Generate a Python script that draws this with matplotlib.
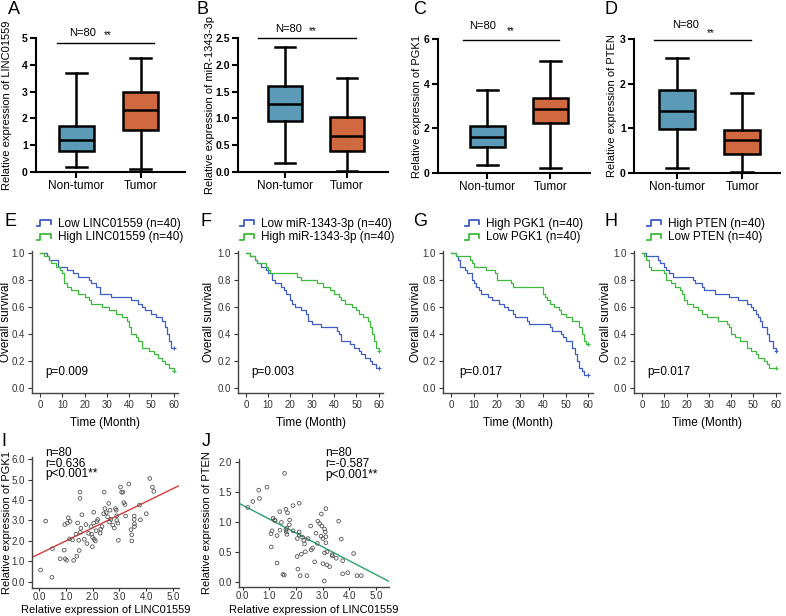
import numpy as np
import matplotlib
matplotlib.use("Agg")
import matplotlib.pyplot as plt
from matplotlib.lines import Line2D
from matplotlib.legend_handler import HandlerBase

plt.rcParams["font.family"] = ["Liberation Sans", "DejaVu Sans"]

# ----------------------------------------------------------
# Data
# ----------------------------------------------------------
groups = ["Non-tumor", "Tumor"]

# box stats: whislo, q1, med, q3, whishi
box_A = [[0.20, 0.80, 1.20, 1.72, 3.68], [0.10, 1.55, 2.30, 3.00, 4.27]]
box_B = [[0.17, 0.95, 1.26, 1.60, 2.33], [0.02, 0.40, 0.67, 1.02, 1.75]]
box_C = [[0.38, 1.15, 1.60, 2.10, 3.70], [0.22, 2.22, 2.86, 3.38, 5.02]]
box_D = [[0.12, 0.99, 1.38, 1.86, 2.57], [0.02, 0.42, 0.75, 0.96, 1.79]]
box_ylabels = ["Relative expression of LINC01559", "Relative expression of miR-1343-3p",
               "Relative expression of PGK1", "Relative expression of PTEN"]
box_ylims = [5, 2.5, 6, 3]
box_yticks = [[0, 1, 2, 3, 4, 5], [0, 0.5, 1.0, 1.5, 2.0, 2.5], [0, 2, 4, 6], [0, 1, 2, 3]]
box_yfmt = ["{:.0f}", "{:.1f}", "{:.0f}", "{:.0f}"]

# Kaplan-Meier steps (time in months, survival fraction)
E_low_t = [0, 3, 4, 8, 12, 15, 17, 22, 23, 25, 27, 32, 41, 44, 46, 47, 50, 52, 55, 56, 57, 58, 59, 60]
E_low_s = [1, .975, .95, .9, .875, .85, .825, .8, .775, .75, .7, .675, .65, .625, .6, .575, .55, .525, .5, .45, .4, .35, .3, .3]
E_high_t = [0, 2, 4, 5, 7, 9, 10, 11, 12, 14, 17, 20, 22, 23, 28, 31, 34, 37, 39, 40, 41, 43, 44, 46, 49, 51, 53, 55, 56, 58, 60]
E_high_s = [1, .975, .95, .925, .9, .875, .85, .775, .75, .725, .7, .675, .65, .625, .6, .575, .55, .525, .5, .45, .4, .375, .35, .3, .275, .25, .225, .2, .175, .15, .125]

F_low_t = [0, 2, 4, 5, 7, 9, 10, 12, 13, 16, 17, 18, 20, 21, 22, 25, 27, 28, 30, 34, 41, 42, 43, 47, 49, 51, 52, 54, 56, 57, 59, 60]
F_low_s = [1, .975, .95, .925, .9, .875, .85, .8, .775, .75, .725, .7, .65, .625, .6, .575, .55, .5, .475, .45, .425, .4, .35, .325, .3, .275, .25, .225, .2, .175, .15, .15]
F_high_t = [0, 2, 4, 5, 9, 10, 11, 23, 25, 32, 35, 38, 40, 42, 43, 45, 48, 50, 51, 53, 55, 56, 57, 58, 59, 60]
F_high_s = [1, .975, .95, .925, .9, .875, .85, .825, .8, .775, .75, .725, .7, .675, .65, .625, .6, .575, .55, .525, .5, .45, .4, .35, .3, .275]

G_high_t = [0, 2, 3, 4, 6, 7, 9, 10, 11, 12, 13, 16, 18, 21, 23, 25, 27, 28, 33, 34, 43, 44, 48, 49, 50, 53, 54, 55, 56, 57, 58, 60]
G_high_s = [1, .975, .95, .9, .875, .85, .8, .775, .75, .725, .7, .675, .65, .625, .6, .575, .55, .525, .5, .475, .45, .425, .4, .375, .35, .3, .25, .2, .15, .125, .1, .1]
G_low_t = [0, 2, 8, 9, 10, 15, 19, 20, 26, 27, 40, 41, 42, 43, 45, 47, 48, 50, 53, 56, 57, 58, 59, 60]
G_low_s = [1, .975, .95, .925, .9, .875, .85, .8, .775, .75, .7, .675, .65, .625, .6, .575, .55, .525, .5, .45, .4, .35, .325, .325]

H_high_t = [0, 2, 7, 8, 10, 11, 12, 14, 23, 24, 27, 28, 33, 39, 43, 47, 49, 50, 51, 52, 53, 54, 56, 57, 59, 60]
H_high_s = [1, .975, .95, .925, .9, .875, .85, .825, .8, .775, .75, .725, .7, .675, .65, .625, .6, .575, .55, .525, .5, .45, .4, .35, .3, .275]
H_low_t = [0, 1, 2, 3, 4, 10, 11, 13, 15, 17, 18, 19, 20, 23, 25, 27, 29, 34, 38, 39, 40, 42, 44, 47, 49, 51, 52, 55, 56, 57, 60]
H_low_s = [1, .975, .95, .9, .875, .85, .8, .775, .75, .725, .7, .65, .625, .6, .575, .55, .525, .5, .475, .45, .4, .375, .35, .3, .275, .25, .225, .2, .175, .15, .15]

km_labels = [("Low LINC01559 (n=40)", "High LINC01559 (n=40)"),
             ("Low miR-1343-3p (n=40)", "High miR-1343-3p (n=40)"),
             ("High PGK1 (n=40)", "Low PGK1 (n=40)"),
             ("High PTEN (n=40)", "Low PTEN (n=40)")]
km_pvals = ["p=0.009", "p=0.003", "p=0.017", "p=0.017"]

# scatter I: LINC01559 vs PGK1
I_x = [0.06, 0.48, 0.25, 0.50, 0.79, 0.94, 0.98, 1.03, 0.96, 1.06, 1.09, 1.16, 1.14, 1.29, 1.41, 1.38, 1.44, 1.53, 1.53, 1.50,
       1.48, 1.56, 1.60, 1.54, 1.69, 1.75, 1.79, 1.85, 1.94, 1.96, 2.00, 1.99, 2.04, 2.04, 2.06, 2.10, 2.13, 2.16, 2.19, 2.28,
       2.30, 2.35, 2.41, 2.43, 2.46, 2.51, 2.56, 2.60, 2.63, 2.65, 2.68, 2.81, 2.85, 2.88, 2.90, 2.90, 2.94, 2.96, 3.04, 3.08,
       3.13, 3.16, 3.21, 3.23, 3.35, 3.43, 3.46, 3.46, 3.55, 3.55, 3.56, 3.56, 3.78, 3.75, 4.00, 4.13, 4.23, 4.28, 2.75, 1.25]
I_y = [0.58, 0.22, 2.97, 1.62, 1.13, 1.55, 1.13, 1.05, 2.80, 2.87, 3.13, 2.95, 2.10, 1.05, 1.25, 2.33, 2.88, 4.38, 4.08, 1.53,
       2.03, 2.62, 3.28, 2.42, 2.08, 2.80, 1.87, 2.37, 2.70, 2.33, 2.17, 1.72, 3.40, 2.87, 2.08, 2.00, 2.50, 2.95, 3.05, 2.38,
       2.57, 2.70, 3.33, 4.38, 3.58, 3.38, 3.18, 3.83, 2.92, 3.50, 3.05, 2.63, 3.58, 3.50, 3.23, 3.00, 2.87, 2.03, 4.63, 4.38,
       4.38, 3.87, 3.78, 3.22, 4.78, 2.55, 2.30, 2.00, 3.22, 3.05, 2.83, 2.70, 3.03, 3.75, 3.33, 5.05, 4.63, 4.42, 2.78, 2.05]
I_fit = (1.36, 0.64)   # intercept, slope

# scatter J: LINC01559 vs PTEN
J_x = [0.19, 0.38, 0.60, 0.63, 0.91, 1.57, 1.06, 1.10, 1.07, 1.14, 1.19, 1.22, 1.29, 1.29, 1.39, 1.45, 1.51, 1.56, 1.62, 1.62,
       1.63, 1.66, 1.66, 1.68, 1.75, 1.76, 1.89, 1.89, 2.12, 2.12, 2.12, 2.04, 2.07, 2.16, 2.20, 2.29, 2.32, 2.35, 2.25, 2.41,
       2.45, 2.57, 2.62, 2.75, 2.80, 2.82, 2.89, 2.95, 2.94, 2.97, 3.01, 3.01, 3.10, 3.07, 3.07, 3.06, 3.12, 3.12, 3.12, 3.16,
       3.16, 3.26, 3.37, 3.51, 3.60, 3.70, 3.75, 3.75, 3.94, 4.16, 4.29, 4.45, 2.55, 1.40, 2.70, 3.35, 2.05]
J_y = [1.24, 1.34, 1.53, 1.39, 1.58, 1.81, 0.80, 0.85, 0.58, 1.06, 1.03, 1.02, 0.77, 0.31, 1.17, 0.99, 0.12, 0.11, 1.21, 0.87,
       0.83, 0.79, 0.89, 1.15, 0.95, 1.03, 1.27, 0.85, 1.31, 0.83, 0.78, 0.42, 0.21, 0.10, 0.46, 0.69, 0.63, 0.50, 0.74, 0.10,
       0.72, 0.53, 0.56, 0.81, 0.64, 1.01, 0.97, 1.13, 0.76, 0.93, 0.72, 0.30, 0.83, 0.88, 0.48, 0.01, 1.22, 0.75, 0.65, 0.50,
       0.28, 0.25, 0.43, 0.39, 1.01, 0.71, 0.35, 0.13, 0.15, 0.47, 0.10, 0.10, 0.93, 0.86, 0.33, 0.45, 0.72]
J_fit = (1.277, -0.232)

BOX_BLUE = "#5b9bb7"
BOX_ORANGE = "#d0693f"
KM_BLUE = "#3d5cc5"
KM_GREEN = "#3dba3d"
AX_GRAY = "#444444"

W, H = 786, 616
fig = plt.figure(figsize=(W / 100, H / 100), dpi=100)


def add_ax(box):
    # pixel box (left, right, top, bottom) -> figure fraction
    l, r, t, b = box
    return fig.add_axes([l / W, 1 - b / H, (r - l) / W, (b - t) / H])


def place_ylabel(ax, box, px):
    l, r, t, b = box
    ax.yaxis.set_label_coords((px - l) / (r - l), 0.5)


def letter(x, y, s):
    fig.text(x / W, 1 - y / H, s, fontsize=13, ha="left", va="center")


# ----------------------------------------------------------
# Row 1: box plots
# ----------------------------------------------------------
box_boxes = [(36, 185, 38, 172), (238, 388, 38, 172), (438, 590, 39, 173), (634, 780, 39, 173)]
box_xlims = [(0.37, 2.69), (0.24, 2.66), (0.22, 2.63), (0.34, 2.58)]
box_ylab_x = [12, 215, 422, 617]
# significance bar: x0, x1, y, N-text x, N-text y, star x, star y (axes fraction)
box_sig = [(0.14, 0.79, 0.963, 0.315, 1.04, 0.48, 1.02),
           (0.133, 0.787, 1.0, 0.34, 1.067, 0.50, 1.05),
           (0.164, 0.796, 0.993, 0.29, 1.097, 0.48, 1.06),
           (0.137, 0.80, 0.993, 0.35, 1.104, 0.527, 1.045)]
box_data = [box_A, box_B, box_C, box_D]

for i, stats_raw in enumerate(box_data):
    ax = add_ax(box_boxes[i])
    stats = [dict(whislo=s[0], q1=s[1], med=s[2], q3=s[3], whishi=s[4], fliers=[]) for s in stats_raw]
    bp = ax.bxp(stats, positions=[1, 2], widths=0.55, capwidths=0.33, patch_artist=True,
                showfliers=False,
                boxprops=dict(linewidth=1.8, edgecolor="black"),
                medianprops=dict(color="black", linewidth=1.8),
                whiskerprops=dict(color="black", linewidth=1.8),
                capprops=dict(color="black", linewidth=1.8))
    for patch, c in zip(bp["boxes"], [BOX_BLUE, BOX_ORANGE]):
        patch.set_facecolor(c)
    ax.set_xlim(*box_xlims[i])
    ax.set_ylim(0, box_ylims[i])
    ax.set_yticks(box_yticks[i])
    ax.set_yticklabels([box_yfmt[i].format(v) for v in box_yticks[i]], fontweight="bold", fontsize=7.5)
    ax.set_xticks([1, 2])
    ax.set_xticklabels(groups, fontsize=8.5)
    for side in ["top", "right"]:
        ax.spines[side].set_visible(False)
    for side in ["left", "bottom"]:
        ax.spines[side].set_linewidth(1.5)
    ax.tick_params(width=1.5, length=4, pad=2)
    ax.set_ylabel(box_ylabels[i], fontsize=8)
    place_ylabel(ax, box_boxes[i], box_ylab_x[i])
    x0, x1, yl, nx, ny, sx, sy = box_sig[i]
    ax.plot([x0, x1], [yl, yl], color="black", lw=1.0, transform=ax.transAxes, clip_on=False)
    ax.text(nx, ny, "N=80", transform=ax.transAxes, fontsize=8, ha="center", va="center")
    ax.text(sx, sy, "**", transform=ax.transAxes, fontsize=7, ha="center", va="center")

letter(8, 10, "A")
letter(197, 10, "B")
letter(413, 10, "C")
letter(604, 10, "D")


# ----------------------------------------------------------
# Row 2: Kaplan-Meier curves
# ----------------------------------------------------------
class StepHandler(HandlerBase):
    def create_artists(self, legend, orig_handle, xdescent, ydescent, width, height, fontsize, trans):
        xs = np.array([0.0, 0.22, 0.22, 0.85, 0.85]) * width - xdescent
        ys = np.array([0.1, 0.1, 0.75, 0.75, 0.35]) * height - ydescent
        return [Line2D(xs, ys, color=orig_handle.get_color(), lw=1.3, transform=trans)]


km_boxes = [(32, 178, 251, 393), (238, 383, 251, 393), (443, 593, 251, 393), (634, 780, 251, 393)]
km_curves = [((E_low_t, E_low_s), (E_high_t, E_high_s)),
             ((F_low_t, F_low_s), (F_high_t, F_high_s)),
             ((G_high_t, G_high_s), (G_low_t, G_low_s)),
             ((H_high_t, H_high_s), (H_low_t, H_low_s))]
km_leg_x = [0.034, 0.014, 0.147, 0.089]
km_p_x = [2.2, 2.2, 3.5, 2.2]
km_ylab_x = [12, 215, 422, 612]

for i in range(4):
    ax = add_ax(km_boxes[i])
    handles = []
    for (t, s), c in zip(km_curves[i], [KM_BLUE, KM_GREEN]):
        ln, = ax.step(t, s, where="post", color=c, lw=0.9)
        ax.plot(t[-1], s[-1], marker="+", color=c, ms=3, mew=0.8)
        handles.append(ln)
    ax.set_xlim(-3.6, 62)
    ax.set_ylim(-0.037, 1.015)
    ax.set_xticks(range(0, 61, 10))
    ax.set_yticks([0, 0.2, 0.4, 0.6, 0.8, 1.0])
    ax.set_yticklabels(["0.0", "0.2", "0.4", "0.6", "0.8", "1.0"])
    for side in ["top", "right"]:
        ax.spines[side].set_visible(False)
    for side in ["left", "bottom"]:
        ax.spines[side].set_color(AX_GRAY)
        ax.spines[side].set_linewidth(1.0)
    ax.tick_params(labelsize=7, colors="#333333", length=3, width=0.8, pad=2)
    ax.set_ylabel("Overall survival", fontsize=8.5)
    place_ylabel(ax, km_boxes[i], km_ylab_x[i])
    ax.set_xlabel("Time (Month)", fontsize=8.5, labelpad=5)
    ax.text(km_p_x[i], 0.12, km_pvals[i], fontsize=8.5, ha="left", va="center")
    ax.legend(handles, km_labels[i], loc="upper left", bbox_to_anchor=(km_leg_x[i], 1.235),
              frameon=False, fontsize=8.5, handlelength=1.35, handletextpad=0.4,
              labelspacing=0.15, borderpad=0, borderaxespad=0,
              handler_map={Line2D: StepHandler()})

letter(5, 222, "E")
letter(200, 222, "F")
letter(413, 222, "G")
letter(604, 222, "H")

# ----------------------------------------------------------
# Row 3: correlation scatter plots
# ----------------------------------------------------------
sc_specs = [
    dict(box=(32, 179, 457, 588), x=I_x, y=I_y, fit=I_fit, color="#d9393a",
         xlim=(-0.26, 5.22), ylim=(-0.3, 6.1), yticks=[0, 1, 2, 3, 4, 5, 6], ylab_x=12,
         ylabel="Relative expression of PGK1", txt="n=80\nr=0.636\np<0.001**", tx=0.09, ty=1.075),
    dict(box=(239, 389, 459, 587), x=J_x, y=J_y, fit=J_fit, color="#2aa56a",
         xlim=(-0.14, 5.49), ylim=(-0.09, 2.05), yticks=[0, 0.5, 1.0, 1.5, 2.0], ylab_x=212,
         ylabel="Relative expression of PTEN", txt="n=80\nr=-0.587\np<0.001**", tx=0.573, ty=1.09),
]

for sp in sc_specs:
    ax = add_ax(sp["box"])
    ax.scatter(sp["x"], sp["y"], s=7, facecolors="none", edgecolors="#555555", linewidths=0.6, zorder=3)
    xs = np.array(sp["xlim"])
    ax.plot(xs, sp["fit"][0] + sp["fit"][1] * xs, color=sp["color"], lw=1.0, zorder=2)
    ax.set_xlim(*sp["xlim"])
    ax.set_ylim(*sp["ylim"])
    ax.set_xticks([0, 1, 2, 3, 4, 5])
    ax.set_xticklabels(["0.0", "1.0", "2.0", "3.0", "4.0", "5.0"])
    ax.set_yticks(sp["yticks"])
    ax.set_yticklabels(["{:.1f}".format(v) for v in sp["yticks"]])
    for side in ["top", "right"]:
        ax.spines[side].set_visible(False)
    for side in ["left", "bottom"]:
        ax.spines[side].set_color(AX_GRAY)
        ax.spines[side].set_linewidth(1.0)
    ax.tick_params(labelsize=7, colors="#333333", length=3, width=0.8, pad=2)
    ax.tick_params(axis="x", length=2, pad=1)
    ax.set_ylabel(sp["ylabel"], fontsize=8)
    place_ylabel(ax, sp["box"], sp["ylab_x"])
    ax.set_xlabel("Relative expression of LINC01559", fontsize=8)
    l, r, t, b = sp["box"]
    ax.xaxis.set_label_coords(0.5, (b - 605) / (b - t))
    ax.text(sp["tx"], sp["ty"], sp["txt"], transform=ax.transAxes, fontsize=8.5,
            ha="left", va="top", linespacing=0.85)

letter(1, 442, "I")
letter(202, 442, "J")

fig.savefig("out.png", dpi=100)
